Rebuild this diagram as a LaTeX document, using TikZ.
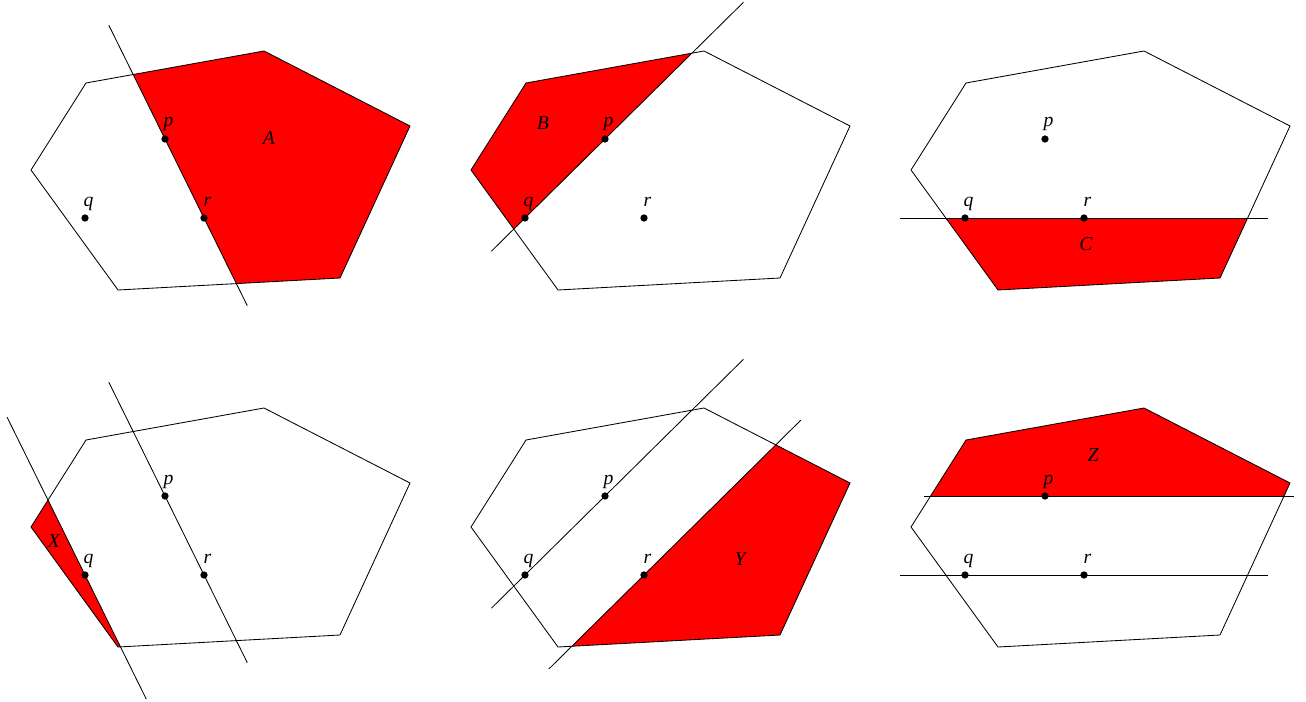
\documentclass[tikz,border=0pt]{standalone}
\usepackage{fontspec}
\setmainfont{Liberation Serif}
\usetikzlibrary{calc}
\tikzset{
  pt/.style={circle,fill,inner sep=0pt,minimum size=5.2pt},
  lbl/.style={anchor=base,inner sep=0pt,font=\fontsize{14}{16}\selectfont\itshape},
  region/.style={inner sep=0pt,font=\fontsize{14}{16}\selectfont\itshape},
  cut/.style={line width=.6pt},
}
\newcommand\hexagon{(86,83) -- (264,51) -- (410,126) -- (340,278) -- (118,290) -- (31,170) -- cycle}
% the three points of every panel
\newcommand\setpqr{%
  \coordinate (p) at (165,139);
  \coordinate (q) at (85,218);
  \coordinate (r) at (204,218);}
\newcommand\drawpqr{%
  \foreach \n in {p,q,r}{
    \node[pt] (\n dot) at (\n) {};
    \node[lbl] at ($(\n)+(3.5,-12)$) {\n};
  }}
\begin{document}
\begin{tikzpicture}[x=.025cm,y=-.025cm]
\useasboundingbox (0,0) rectangle (1306,702);
% A
\begin{scope}
\setpqr
\begin{scope}
\clip \hexagon;
\fill[red] ($(p)!-1.44!(r)$) -- ($(p)!2.11!(r)$) -- (450,330) -- (450,0) -- cycle;
\end{scope}
\draw[cut] \hexagon;
\draw[cut] ($(p)!-1.44!(r)$) -- ($(p)!2.11!(r)$);
\drawpqr
\node[region] at (269,138) {A};
\end{scope}
% B
\begin{scope}[shift={(440,0)}]
\setpqr
\begin{scope}
\clip \hexagon;
\fill[red] ($(q)!-0.42!(p)$) -- ($(q)!2.73!(p)$) -- (0,0) -- (0,300) -- cycle;
\end{scope}
\draw[cut] \hexagon;
\draw[cut] ($(q)!-0.42!(p)$) -- ($(q)!2.73!(p)$);
\drawpqr
\node[region] at (103,123) {B};
\end{scope}
% C
\begin{scope}[shift={(880,0)}]
\setpqr
\begin{scope}
\clip \hexagon;
\fill[red] (0,218) rectangle (450,330);
\end{scope}
\draw[cut] \hexagon;
\draw[cut] ($(q)!-0.546!(r)$) -- ($(q)!2.546!(r)$);
\drawpqr
\node[region] at (206,244) {C};
\end{scope}
% X
\begin{scope}[shift={(0,357)}]
\setpqr
\coordinate (qd) at ($(q)+(r)-(p)$);
\begin{scope}
\clip \hexagon;
\fill[red] ($(q)!-2!(qd)$) -- ($(q)!1.57!(qd)$) -- (0,343) -- (0,61) -- cycle;
\end{scope}
\draw[cut] \hexagon;
\draw[cut] ($(p)!-1.44!(r)$) -- ($(p)!2.11!(r)$);
\draw[cut] ($(q)!-2!(qd)$) -- ($(q)!1.57!(qd)$);
\drawpqr
\node[region] at (54,184) {X};
\end{scope}
% Y
\begin{scope}[shift={(440,357)}]
\setpqr
\coordinate (rd) at ($(r)+(p)-(q)$);
\begin{scope}
\clip \hexagon;
\fill[red] ($(r)!-1.19!(rd)$) -- ($(r)!1.96!(rd)$) -- (450,64) -- (450,330) -- (110,330) -- cycle;
\end{scope}
\draw[cut] \hexagon;
\draw[cut] ($(q)!-0.42!(p)$) -- ($(q)!2.73!(p)$);
\draw[cut] ($(r)!-1.19!(rd)$) -- ($(r)!1.96!(rd)$);
\drawpqr
\node[region] at (300,202) {Y};
\end{scope}
% Z
\begin{scope}[shift={(880,357)}]
\setpqr
\coordinate (pd) at ($(p)+(r)-(q)$);
\begin{scope}
\clip \hexagon;
\fill[red] (0,0) rectangle (450,139);
\end{scope}
\draw[cut] \hexagon;
\draw[cut] ($(q)!-0.546!(r)$) -- ($(q)!2.546!(r)$);
\draw[cut] ($(p)!-1.017!(pd)$) -- ($(p)!2.092!(pd)$);
\drawpqr
\node[region] at (213,98) {Z};
\end{scope}
\end{tikzpicture}
\end{document}
